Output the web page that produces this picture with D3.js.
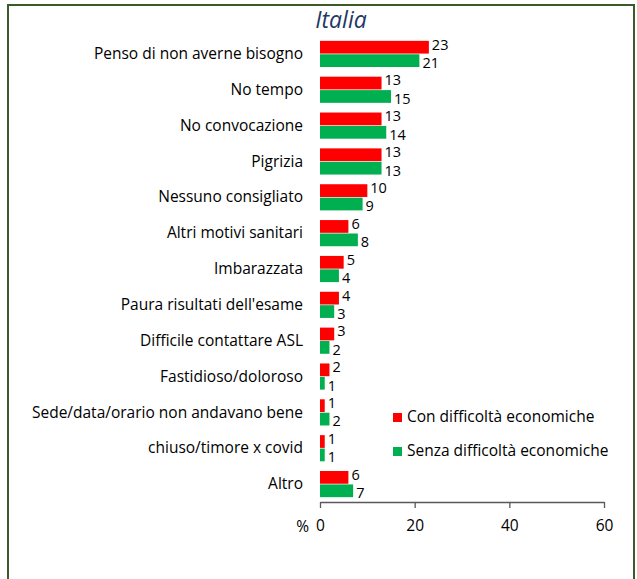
<!DOCTYPE html>
<html>
<head>
<meta charset="utf-8">
<script src="https://cdn.jsdelivr.net/npm/d3@7"></script>
<style>
  body { margin: 0; background: #fff; }
  svg { display: block; font-family: "Open Sans", sans-serif; }
</style>
</head>
<body>
<div id="main"></div>
<script>
var categories = [
    "Penso di non averne bisogno",
    "No tempo",
    "No convocazione",
    "Pigrizia",
    "Nessuno consigliato",
    "Altri motivi sanitari",
    "Imbarazzata",
    "Paura risultati dell'esame",
    "Difficile contattare ASL",
    "Fastidioso/doloroso",
    "Sede/data/orario non andavano bene",
    "chiuso/timore x covid",
    "Altro",
];
var conDiff = [23, 13, 13, 13, 10, 6, 5, 4, 3, 2, 1, 1, 6];
var senzaDiff = [21, 15, 14, 13, 9, 8, 4, 3, 2, 1, 2, 1, 7];
var seriesNames = ["Con difficoltà economiche", "Senza difficoltà economiche"];
var seriesColors = ["#ff0000", "#00b050"];
var xTicks = [0, 20, 40, 60];

var ctx = { w: 637, h: 579, FONT: "15.5px", VAL_FONT: "14.5px" };

var rows = categories.map((c, i) => ({
    cat: c,
    vals: [conDiff[i], senzaDiff[i]],
}));

var svg = d3.select("#main").append("svg")
    .attr("width", ctx.w)
    .attr("height", ctx.h);

// frame
svg.append("rect")
    .attr("x", 8).attr("y", 5)
    .attr("width", 626).attr("height", 610)
    .attr("fill", "none")
    .attr("stroke", "#3b5a27")
    .attr("stroke-width", 2);

// title
svg.append("text")
    .attr("x", 341).attr("y", 28)
    .attr("text-anchor", "middle")
    .style("font-size", "23px")
    .style("font-style", "italic")
    .attr("fill", "#1f3864")
    .text("Italia");

var x = d3.scaleLinear().domain([0, 60]).range([320, 604]);
var y = d3.scaleBand().domain(categories).range([36, 502])
    .paddingInner(0.27).paddingOuter(0.135);
var y1 = d3.scaleBand().domain([0, 1]).range([0, y.bandwidth()]).paddingInner(0.05);

// category labels
svg.append("g").selectAll("text")
    .data(rows).enter()
    .append("text")
    .attr("x", 303)
    .attr("y", (d) => y(d.cat) + y.bandwidth() / 2 + 1)
    .attr("text-anchor", "end")
    .attr("dominant-baseline", "middle")
    .style("font-size", ctx.FONT)
    .attr("fill", "#000")
    .text((d) => d.cat);

// bars
var groups = svg.append("g").selectAll("g")
    .data(rows).enter()
    .append("g")
    .attr("transform", (d) => `translate(0,${y(d.cat)})`);

groups.selectAll("rect")
    .data((d) => d.vals.map((v, k) => ({ v: v, k: k })))
    .enter().append("rect")
    .attr("x", x(0))
    .attr("y", (d) => y1(d.k))
    .attr("width", (d) => x(d.v) - x(0))
    .attr("height", y1.bandwidth())
    .attr("fill", (d) => seriesColors[d.k]);

// value labels, red one nudged up, green one down
groups.selectAll("text")
    .data((d) => d.vals.map((v, k) => ({ v: v, k: k })))
    .enter().append("text")
    .attr("x", (d) => x(d.v) + 3)
    .attr("y", (d) => y1(d.k) + y1.bandwidth() / 2 + (d.k === 0 ? -1.5 : 3.5))
    .attr("dominant-baseline", "middle")
    .style("font-size", ctx.VAL_FONT)
    .attr("fill", "#000")
    .text((d) => d.v);

// axis
var axisG = svg.append("g")
    .attr("transform", `translate(0,${502})`)
    .call(d3.axisBottom(x).tickValues(xTicks).tickSize(6).tickSizeOuter(0));
axisG.select(".domain").attr("stroke", "#595959").attr("stroke-width", 1.3);
axisG.selectAll(".tick line").attr("stroke", "#595959").attr("stroke-width", 1.3);
axisG.selectAll(".tick text")
    .attr("y", 18)
    .style("font-size", ctx.FONT)
    .style("font-family", "'Open Sans', sans-serif")
    .attr("fill", "#000");

svg.append("text")
    .attr("x", 309).attr("y", 532)
    .attr("text-anchor", "end")
    .style("font-size", ctx.FONT)
    .text("%");

// legend
var legend = svg.append("g").selectAll("g")
    .data(seriesNames).enter()
    .append("g")
    .attr("transform", (d, i) => `translate(393,${413 + i * 34})`);
legend.append("rect")
    .attr("width", 9).attr("height", 9)
    .attr("fill", (d, i) => seriesColors[i]);
legend.append("text")
    .attr("x", 14).attr("y", 5)
    .attr("dominant-baseline", "middle")
    .style("font-size", ctx.FONT)
    .text((d) => d);
</script>
</body>
</html>
